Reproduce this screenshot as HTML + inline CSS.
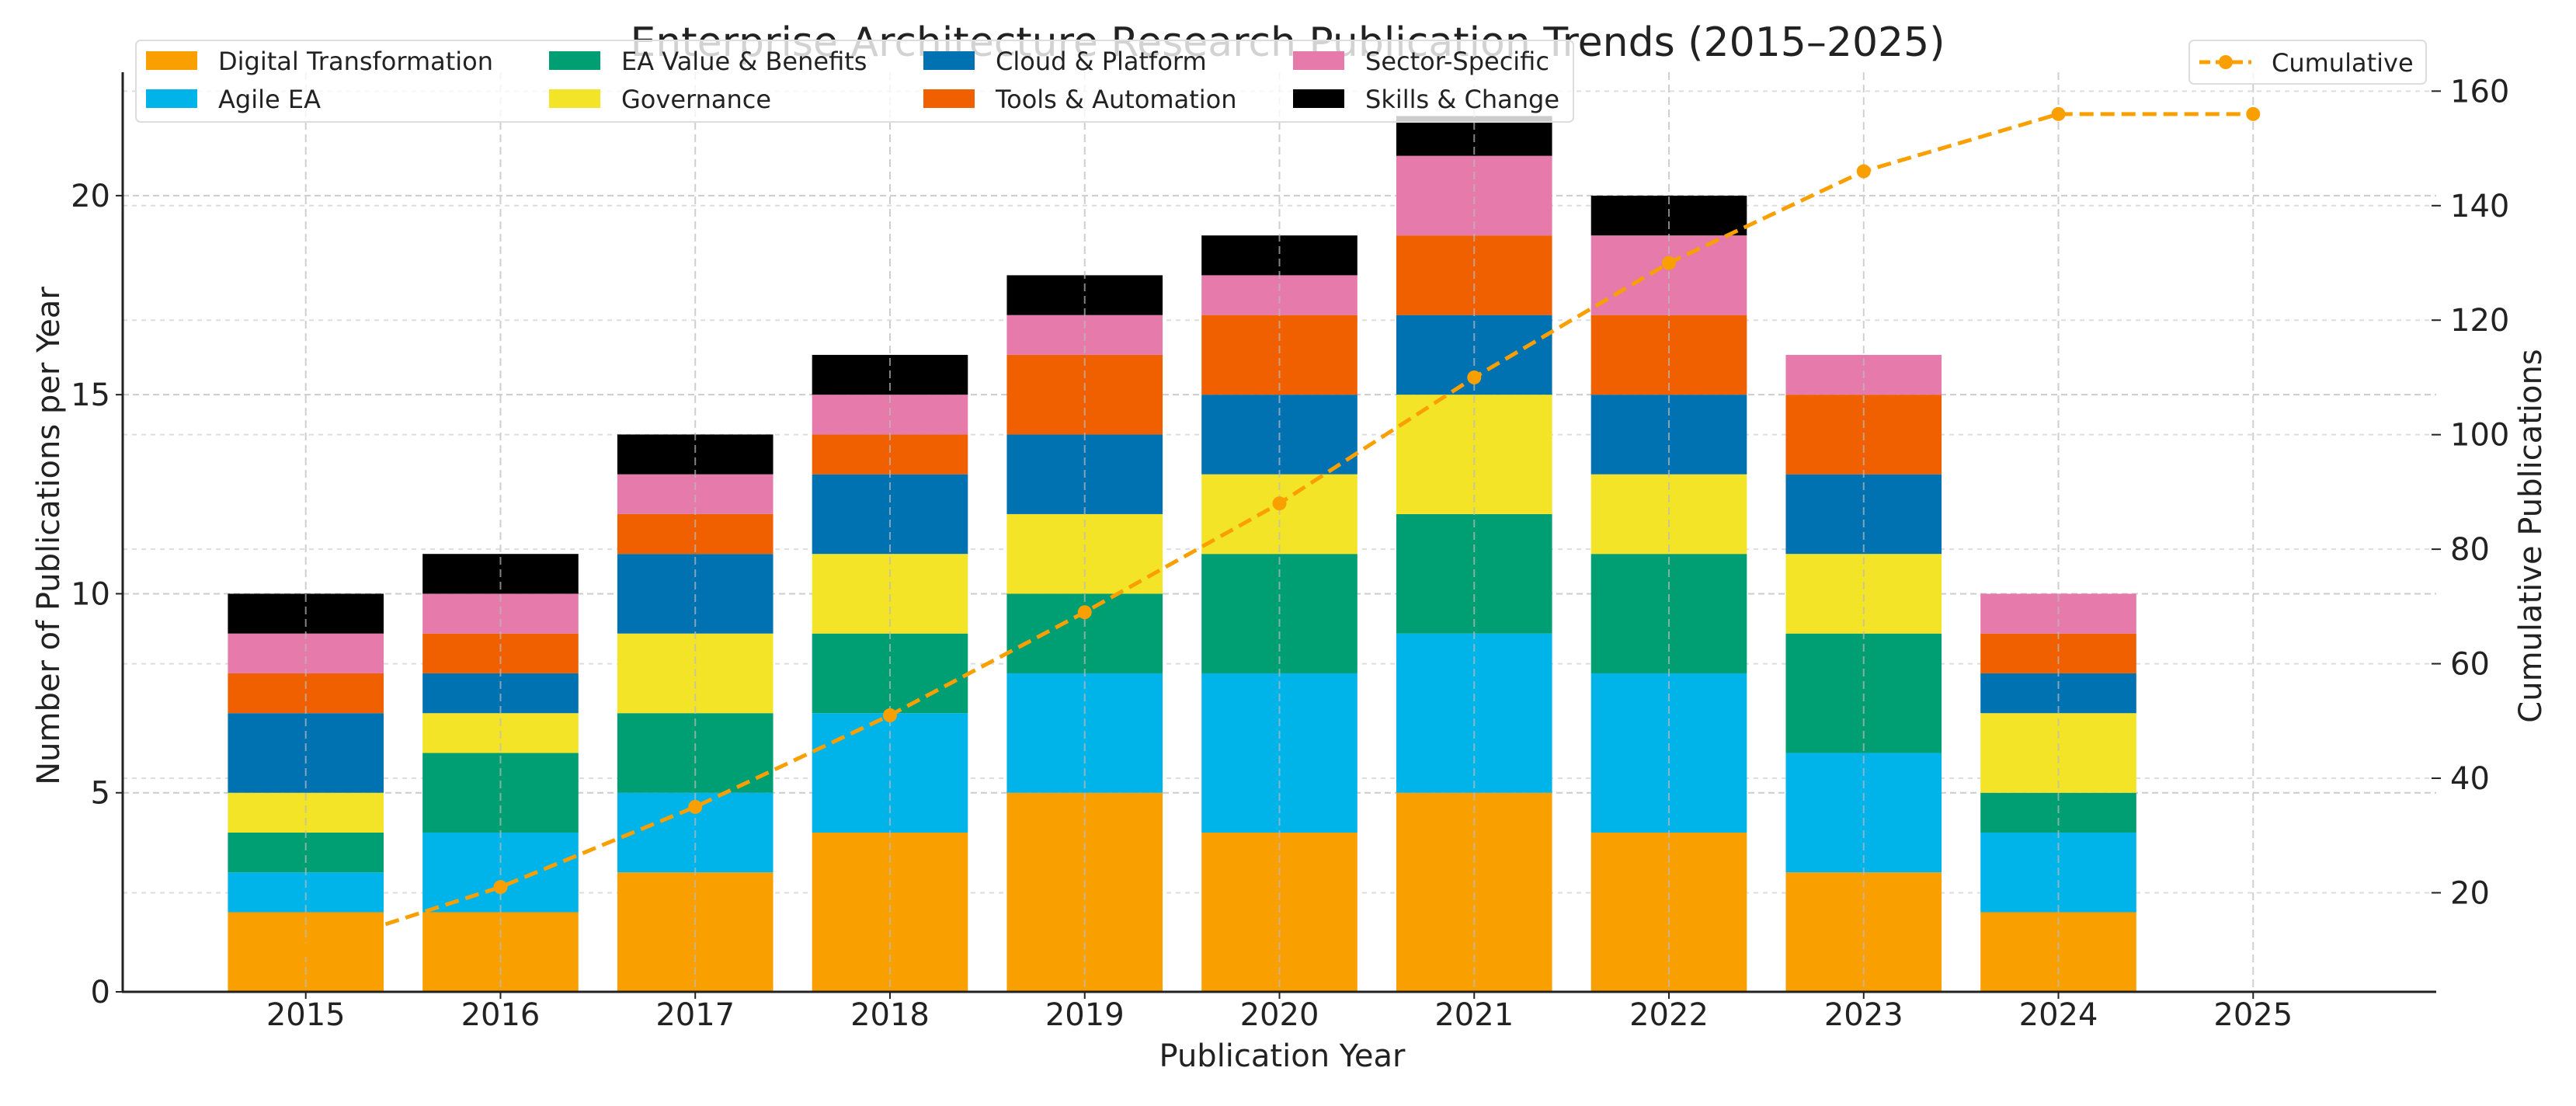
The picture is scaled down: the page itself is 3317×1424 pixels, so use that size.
<!DOCTYPE html>
<html><head><meta charset="utf-8"><style>
html,body{margin:0;padding:0;background:#fff;}
svg{display:block;font-family:"DejaVu Sans","Liberation Sans",sans-serif;}
</style></head><body>
<svg id="chart" width="3317" height="1424" viewBox="0 0 3317 1424" xmlns="http://www.w3.org/2000/svg">
<text x="1658" y="72" font-size="52" text-anchor="middle" fill="#222">Enterprise Architecture Research Publication Trends (2015–2025)</text>
<g id="grid"></g>
<g id="bars"></g>
<g id="gridTop"></g>
<g id="line"></g>
<g id="axes"></g>
<text x="1651" y="1373" font-size="40" text-anchor="middle" fill="#222">Publication Year</text>
<text transform="translate(76,690) rotate(-90)" font-size="40" text-anchor="middle" fill="#222">Number of Publications per Year</text>
<text transform="translate(3272,690) rotate(-90)" font-size="40" text-anchor="middle" fill="#222">Cumulative Publications</text>
<g id="legend"></g>
<g id="legend2"></g>
</svg>
<script>
const years = ["2015","2016","2017","2018","2019","2020","2021","2022","2023","2024","2025"];
const seriesNames = ["Digital Transformation","Agile EA","EA Value & Benefits","Governance","Cloud & Platform","Tools & Automation","Sector-Specific","Skills & Change"];
const seriesColors = ["#f9a000","#00b4ea","#009e73","#f3e428","#0072b2","#f06000","#e57aab","#000000"];
const digital = [2,2,3,4,5,4,5,4,3,2,0];
const agile = [1,2,2,3,3,4,4,4,3,2,0];
const value = [1,2,2,2,2,3,3,3,3,1,0];
const governance = [1,1,2,2,2,2,3,2,2,2,0];
const cloud = [2,1,2,2,2,2,2,2,2,1,0];
const tools = [1,1,1,1,2,2,2,2,2,1,0];
const sector = [1,1,1,1,1,1,2,2,1,1,0];
const skills = [1,1,1,1,1,1,1,1,0,0,0];
const cumulative = [10,21,35,51,69,88,110,130,146,156,156];
const leftTicks = [0,5,10,15,20];
const rightTicks = [20,40,60,80,100,120,140,160];

const NS="http://www.w3.org/2000/svg";
const series=[digital,agile,value,governance,cloud,tools,sector,skills];
const L=158,R=3137,T=93,B=1277;
const xmin=-0.94,xmax=10.94;
const y1max=23.1, y2min=2.7, y2max=163.3;
function xs(i){return L+(i-xmin)/(xmax-xmin)*(R-L);}
function y1(v){return B-v/y1max*(B-T);}
function y2(v){return B-(v-y2min)/(y2max-y2min)*(B-T);}
function mk(tag,attrs,parent){const e=document.createElementNS(NS,tag);for(const k in attrs)e.setAttribute(k,attrs[k]);parent.appendChild(e);return e;}
const grid=document.getElementById('grid'),bars=document.getElementById('bars'),gt=document.getElementById('gridTop'),line=document.getElementById('line'),axes=document.getElementById('axes');

leftTicks.forEach(v=>{const l=mk('line',{x1:L,x2:R,y1:y1(v),y2:y1(v),stroke:'#ccc','stroke-width':2,'stroke-dasharray':'8 5'},grid);

});
rightTicks.forEach(v=>{const l=mk('line',{x1:L,x2:R,y1:y2(v),y2:y2(v),stroke:'#ddd','stroke-width':2,'stroke-dasharray':'6 6'},grid);

});

years.forEach((yr,i)=>{let base=0;const w=(R-L)/(xmax-xmin)*0.8;
series.forEach((s,k)=>{const v=s[i];if(v>0){const r=mk('rect',{x:xs(i)-w/2,y:y1(base+v),width:w,height:y1(base)-y1(base+v),fill:seriesColors[k]},bars);

}
base+=v;});});

years.forEach((yr,i)=>{const l=mk('line',{x1:xs(i),x2:xs(i),y1:T,y2:B,stroke:'#bbb','stroke-width':2,'stroke-dasharray':'10 6',opacity:0.7},gt);

});

const pts=cumulative.map((v,i)=>xs(i)+','+y2(v)).join(' ');
const pl=mk('polyline',{points:pts,fill:'none',stroke:'#f9a000','stroke-width':5,'stroke-dasharray':'18 9'},line);


cumulative.forEach((v,i)=>{const c=mk('circle',{cx:xs(i),cy:y2(v),r:9,fill:'#f9a000'},line);

});

mk('line',{x1:L,x2:L,y1:T,y2:B+1,stroke:'#222','stroke-width':3},axes);
mk('line',{x1:L-1,x2:R,y1:B,y2:B,stroke:'#222','stroke-width':3},axes);
leftTicks.forEach(v=>{mk('line',{x1:L-9,x2:L,y1:y1(v),y2:y1(v),stroke:'#222','stroke-width':2},axes);
const t=mk('text',{x:L-16,y:y1(v)+14,'font-size':40,'text-anchor':'end',fill:'#222'},axes);t.textContent=v;

});
rightTicks.forEach(v=>{mk('line',{x1:R-6,x2:R+6,y1:y2(v),y2:y2(v),stroke:'#222','stroke-width':2},axes);
const t=mk('text',{x:R+18,y:y2(v)+14,'font-size':40,fill:'#222'},axes);t.textContent=v;

});
years.forEach((yr,i)=>{mk('line',{x1:xs(i),x2:xs(i),y1:B,y2:B+9,stroke:'#222','stroke-width':2},axes);
const t=mk('text',{x:xs(i),y:1320,'font-size':40,'text-anchor':'middle',fill:'#222'},axes);t.textContent=yr;

});

const lg=document.getElementById('legend');
mk('rect',{x:175,y:52,width:1851,height:105,rx:6,fill:'#fff','fill-opacity':0.8,stroke:'#ddd','stroke-width':2},lg);
const colX=[188,707,1189,1665],rowY=[78,127];
seriesNames.forEach((n,k)=>{const c=Math.floor(k/2),r=k%2;
const s=mk('rect',{x:colX[c],y:rowY[r]-12,width:66,height:24,fill:seriesColors[k]},lg);


const t=mk('text',{x:colX[c]+93,y:rowY[r]+12,'font-size':32,fill:'#222'},lg);t.textContent=n;

});
const lg2=document.getElementById('legend2');
mk('rect',{x:2819,y:52,width:305,height:56,rx:6,fill:'#fff','fill-opacity':0.8,stroke:'#ddd','stroke-width':2},lg2);
mk('line',{x1:2832,x2:2899,y1:80,y2:80,stroke:'#f9a000','stroke-width':5,'stroke-dasharray':'14 7'},lg2);
mk('circle',{cx:2866,cy:80,r:9,fill:'#f9a000'},lg2);
const t2=mk('text',{x:2925,y:92,'font-size':32,fill:'#222'},lg2);t2.textContent='Cumulative';


</script>
</body></html>
